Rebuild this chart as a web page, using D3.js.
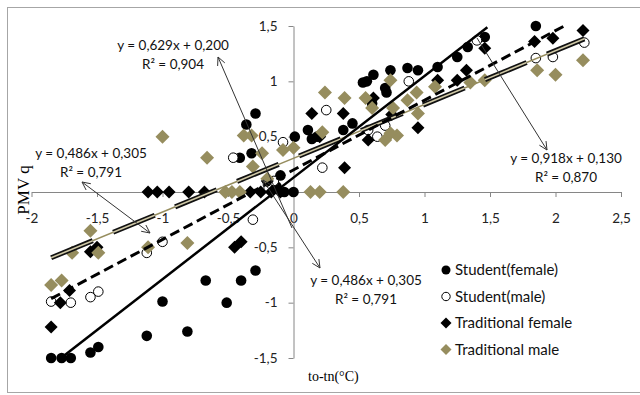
<!DOCTYPE html>
<html>
<head>
<meta charset="utf-8">
<script src="https://cdn.jsdelivr.net/npm/d3@7"></script>
<style>
  body { margin: 0; background: #fff; }
  svg { display: block; }
</style>
</head>
<body>
<div id="chart"></div>
<script>
// values
const xTicks = [-2, -1.5, -1, -0.5, 0, 0.5, 1, 1.5, 2, 2.5];
const yTicks = [-1.5, -1, -0.5, 0.5, 1, 1.5];

const studentFemale = [
  [-1.85,-1.5],[-1.77,-1.5],[-1.70,-1.5],[-1.55,-1.45],[-1.49,-1.40],[-1.12,-1.30],
  [-1.0,-0.99],[-0.81,-1.26],[-0.67,-0.80],[-0.51,-1.0],[-0.40,-0.80],[-0.29,-0.71],
  [-0.29,0.71],[-0.36,0.61],[-0.32,0.35],[-0.41,0.31],[-0.2,0.1],[-0.13,0.05],
  [-0.07,0],[0,0],[-0.1,0.15],[0.01,0.50],[0.11,0.56],[0.14,0.48],[0.18,0.50],
  [0.38,0.56],[0.53,0.99],[0.56,1.0],[0.61,1.06],[0.74,1.10],[0.87,1.12],[0.95,1.10],
  [0.70,0.94],[0.71,0.90],[1.10,1.13],[1.25,1.22],[1.33,1.31],[1.46,1.40],[1.85,1.5],
  [0.6,0.8],[0.45,0.62]
];
const studentMale = [
  [-1.85,-0.99],[-1.70,-1.0],[-1.55,-0.95],[-1.49,-0.90],[-1.12,-0.55],[-1.0,-0.45],
  [-0.31,-0.25],[-0.46,0.31],[-0.08,0.45],[0.22,0.22],[0.25,0.74],[0.64,0.50],
  [0.57,0.56],[0.88,1.0],[1.40,1.37],[1.85,1.21],[1.98,1.22],[2.22,1.35],
  [-0.15,0.1],[0.7,0.6]
];
const traditionalFemale = [
  [-1.85,-1.22],[-1.78,-1.0],[-1.71,-0.89],[-1.55,-0.54],[-1.50,-0.50],[-1.11,0],
  [-1.04,0],[-0.95,0],[-0.80,0],[-0.68,0],[-0.45,-0.50],[-0.40,-0.45],[-0.33,0],
  [-0.25,0],[-0.17,0],[-0.1,0],[-0.2,0.1],[0.14,0.71],[0.38,0.71],[0.39,0.22],
  [0.57,0.47],[0.61,0.85],[0.95,0.58],[1.1,1.01],[1.25,1.01],[1.32,1.10],[1.46,1.30],
  [1.84,1.36],[1.98,1.39],[2.21,1.46],[0.75,0.7],[0.2,0.5]
];
const traditionalMale = [
  [-1.85,-0.84],[-1.77,-0.80],[-1.69,-0.55],[-1.55,-0.35],[-1.49,-0.55],[-1.11,-0.50],
  [-1.0,0.50],[-0.81,-0.46],[-0.66,0.31],[-0.52,0],[-0.47,0],[-0.41,0],[-0.38,0.51],
  [-0.32,0.51],[-0.31,0.23],[-0.24,0.35],[-0.2,0.12],[-0.08,0.38],[0,0.40],[0.13,0],
  [0.2,0],[0.38,0],[0.22,0.54],[0.24,0.9],[0.39,0.85],[0.55,0.85],[0.6,0.76],
  [0.74,1.01],[0.76,0.76],[0.87,0.83],[0.94,0.9],[0.95,0.71],[1.08,0.95],[0.70,0.47],
  [0.79,0.51],[0.74,0.53],[1.35,0.99],[1.46,1.01],[1.86,1.10],[2.0,1.06],[2.21,1.19]
];

// trend lines: slope, intercept, x range
const trendSolid  = { a: 0.918, b: 0.130, x0: -1.75, x1: 1.48 };
const trendDashed = { a: 0.629, b: 0.200, x0: -1.85, x1: 2.067 };
const trendDouble = { a: 0.486, b: 0.305, x0: -1.85, x1: 2.22 };

const legendNames = ["Student(female)", "Student(male)", "Traditional female", "Traditional male"];

const khaki = "#968d5e";
const width = 640, height = 395;
const svg = d3.select("#chart").append("svg")
  .attr("width", width).attr("height", height);

// outer frame
svg.append("rect").attr("x", 7.5).attr("y", 7.5).attr("width", 640).attr("height", 385)
  .attr("fill", "none").attr("stroke", "#a6a6a6");

const x = d3.scaleLinear().domain([-2, 2.5]).range([31.5, 621]);
const y = d3.scaleLinear().domain([-1.5, 1.5]).range([358, 26]);
const fmt = d => String(d).replace(".", ",");

// axes
const xAxis = svg.append("g").attr("transform", `translate(0,${y(0)})`)
  .call(d3.axisBottom(x).tickValues(xTicks).tickFormat(fmt).tickSize(5).tickSizeOuter(0).tickPadding(16));
const yAxis = svg.append("g").attr("transform", `translate(${x(0)},0)`)
  .call(d3.axisLeft(y).tickValues(yTicks).tickFormat(fmt).tickSize(5).tickSizeOuter(0).tickPadding(11));
[xAxis, yAxis].forEach(g => {
  g.selectAll("path, line").attr("stroke", "#868686");
  g.selectAll("text").attr("fill", "#222").style("font-family", "Lato, sans-serif").style("font-size", "13.5px");
});

const diamond = r => `M0,${-r}L${r},0L0,${r}L${-r},0Z`;

// points
svg.append("g").selectAll("circle").data(studentFemale).enter().append("circle")
  .attr("cx", d => x(d[0])).attr("cy", d => y(d[1])).attr("r", 5.3).attr("fill", "#000");
svg.append("g").selectAll("circle").data(studentMale).enter().append("circle")
  .attr("cx", d => x(d[0])).attr("cy", d => y(d[1])).attr("r", 4.8)
  .attr("fill", "#fff").attr("stroke", "#000").attr("stroke-width", 1);
svg.append("g").selectAll("path").data(traditionalFemale).enter().append("path")
  .attr("d", diamond(6.5)).attr("transform", d => `translate(${x(d[0])},${y(d[1])})`).attr("fill", "#000");
svg.append("g").selectAll("path").data(traditionalMale).enter().append("path")
  .attr("d", diamond(7)).attr("transform", d => `translate(${x(d[0])},${y(d[1])})`).attr("fill", khaki);

// trend lines
const seg = t => svg.append("line")
  .attr("x1", x(t.x0)).attr("y1", y(t.a * t.x0 + t.b))
  .attr("x2", x(t.x1)).attr("y2", y(t.a * t.x1 + t.b));
seg(trendDouble).attr("stroke", khaki).attr("stroke-width", 1.5);
seg(trendDouble).attr("stroke", "#111").attr("stroke-width", 5).attr("stroke-dasharray", "45,22");
seg(trendDouble).attr("stroke", "#cfc8a6").attr("stroke-width", 1.6).attr("stroke-dasharray", "45,22");
seg(trendDashed).attr("stroke", "#000").attr("stroke-width", 3).attr("stroke-dasharray", "10,5");
seg(trendSolid).attr("stroke", "#000").attr("stroke-width", 2.5);

// annotation arrows
function arrow(x1, y1, x2, y2, head1, head2) {
  const g = svg.append("g").attr("stroke", "#333").attr("stroke-width", 1).attr("fill", "none");
  g.append("line").attr("x1", x1).attr("y1", y1).attr("x2", x2).attr("y2", y2);
  const head = (px, py, qx, qy) => {
    const ang = Math.atan2(qy - py, qx - px), L = 9, s = 0.45;
    g.append("path").attr("d",
      `M${px + L * Math.cos(ang + s)},${py + L * Math.sin(ang + s)}L${px},${py}L${px + L * Math.cos(ang - s)},${py + L * Math.sin(ang - s)}`);
  };
  if (head1) head(x1, y1, x2, y2);
  if (head2) head(x2, y2, x1, y1);
}
arrow(218, 57, 292, 228, true, false);
arrow(263, 180, 320, 268, true, true);
arrow(82, 182, 150, 233, true, true);
arrow(477, 38, 547, 150, false, true);

// equation labels
const labels = [
  { cx: 173, y: 50, lines: ["y = 0,629x + 0,200", "R² = 0,904"] },
  { cx: 91, y: 158, lines: ["y = 0,486x + 0,305", "R² = 0,791"] },
  { cx: 566, y: 163, lines: ["y = 0,918x + 0,130", "R² = 0,870"] },
  { cx: 366, y: 285, lines: ["y = 0,486x + 0,305", "R² = 0,791"] }
];
labels.forEach(l => {
  l.lines.forEach((t, i) => {
    svg.append("text").attr("x", l.cx).attr("y", l.y + i * 19).attr("text-anchor", "middle")
      .style("font-family", "Lato, sans-serif").style("font-size", "13.5px").attr("fill", "#111").text(t);
  });
});

// legend
const legend = svg.append("g").attr("transform", "translate(446,270)");
legendNames.forEach((name, i) => {
  const g = legend.append("g").attr("transform", `translate(0,${i * 26.5})`);
  if (i === 0) g.append("circle").attr("r", 4.5).attr("fill", "#000");
  if (i === 1) g.append("circle").attr("r", 4.2).attr("fill", "#fff").attr("stroke", "#000");
  if (i === 2) g.append("path").attr("d", diamond(5.5)).attr("fill", "#000");
  if (i === 3) g.append("path").attr("d", diamond(5.5)).attr("fill", khaki);
  g.append("text").attr("x", 9).attr("dy", "0.35em")
    .style("font-family", "Lato, sans-serif").style("font-size", "15px").attr("fill", "#111").text(name);
});

// axis titles
svg.append("text").attr("x", 308).attr("y", 381)
  .style("font-family", "'Liberation Serif', serif").style("font-size", "14px").text("to-tn(°C)");
svg.append("text").attr("transform", "translate(29,190) rotate(-90)").attr("text-anchor", "middle")
  .style("font-family", "'Liberation Serif', serif").style("font-size", "17px").text("PMV q");
</script>
</body>
</html>
